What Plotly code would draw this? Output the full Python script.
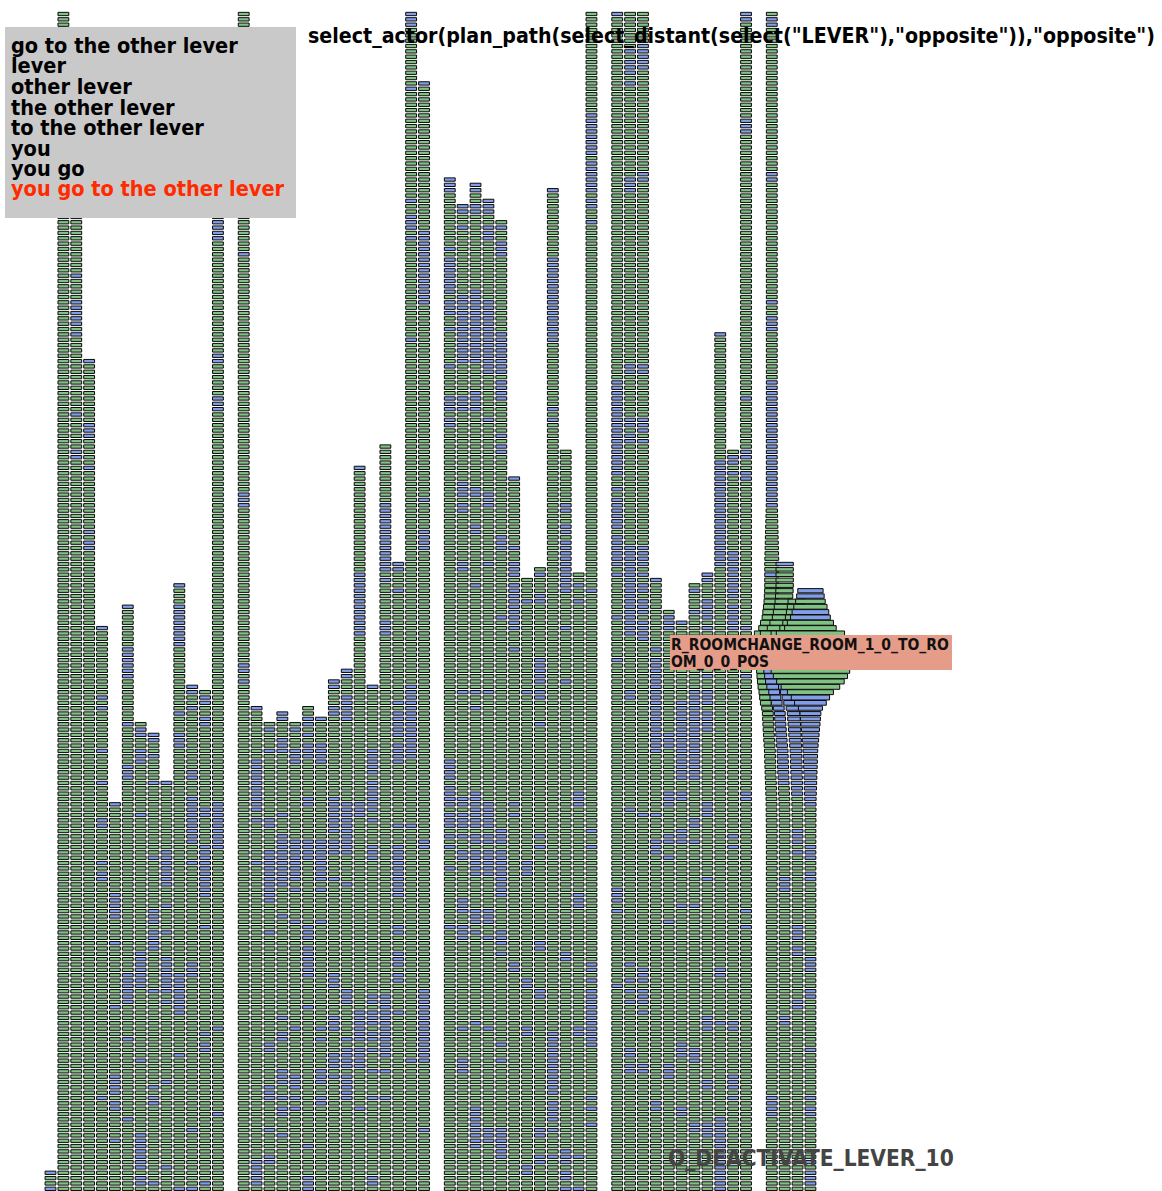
import numpy as np
import plotly.graph_objects as go

ROW_COUNT = 221
# top row of each column (row 0 is the top of the picture); None = empty column
COLUMN_TOPS = [217, 0, 20, 65, 115, 148, 111, 133, 135, 144, 107, 126, 127, 20, None,
               0, 130, 133, 131, 133, 130, 132, 125, 123, 85, 126, 81, 103, 0, 13, None,
               31, 36, 32, 35, 39, 87, 106, 104, 33, 82, 105, 0, None,
               0, 0, 0, 106, 112, 114, 107, 105, 60, 82, 0, None,
               0, 103, 110, 108]

R = lambda a, b: (a, b)
# rows of the blue cells per column: integers or inclusive runs
BLUE_ROWS = [
    [217, 220],
    [],
    [49, R(54, 58), 60, 75, 82, 83],
    [65, 77, 78, 79, 85, 97, 99, 100],
    [115, 128, 130, 138, 144, 151, 152, 159, 161, 162, 203],
    [148, R(165, 169), 174, 186, R(199, 202), 204, 205, 211],
    [111, R(119, 124), 133, R(141, 143), R(180, 185), 192, 207],
    [134, 135, 138, 139, 140, 150, R(176, 182), 196, R(210, 216), 218, 219],
    [135, 136, 139, 144, 158, R(168, 170), R(172, 175), 183, 201, 203, 204, 219],
    [144, R(157, 163), 167, 172, 177, 178, R(179, 183), 185, 200, 216],
    [107, R(111, 118), 131, R(135, 137), R(180, 187), 195, 220],
    [126, 127, 130, 142, 143, R(147, 155), 159, R(178, 180), 209, 220],
    [128, 129, 132, 133, 149, 150, R(156, 165), 171, 191, 193, 194, 219],
    [R(38, 42), 64, 65, R(72, 74), R(148, 156), 190, 206],
    [],
    [45, R(90, 92), 122, 123, 125],
    [130, R(140, 149), 151, 159, R(215, 219)],
    [134, 138, 151, 152, R(157, 166), 172, 193, 194, R(201, 203), 209, 214, 215],
    [131, 132, R(136, 138), 150, R(154, 163), 169, 188, 191, 192, R(198, 200), 203, 205, 206, 210],
    [134, R(138, 140), R(155, 162), 164, 170, 190, R(199, 201), 203, 205],
    [132, 133, 135, R(137, 139), 147, 148, R(155, 158), 171, 172, 173, R(175, 180), 186, 212, R(218, 220)],
    [132, R(137, 140), R(155, 162), 164, 170, 190, 192, R(198, 200), 203, 204],
    [125, 126, 130, 131, R(147, 153), R(155, 157), 162, R(180, 182), R(188, 190), R(195, 197), 199],
    [123, 124, 128, R(129, 132), R(148, 157), 163, R(183, 185), 192, R(194, 197), R(199, 203)],
    [85, R(105, 116), R(148, 150), R(187, 192), R(194, 197), 205],
    [126, R(138, 142), R(144, 149), 151, R(156, 158), 184, 185, R(187, 189), 191, 192, 194, 198, 203, 218, 219],
    [80, R(92, 104), 106, R(114, 116), R(184, 195), 198, 203],
    [103, 104, 108, 129, R(131, 135), R(137, 140), 152, R(156, 165), 171, 172, R(176, 178), 180, 181, 187],
    [R(0, 2), 14, 35, R(38, 40), 42, 61, R(126, 139), 152, 196],
    [13, R(41, 54), 91, R(97, 100), 155, 156, R(183, 196), 209],
    [],
    [R(31, 33), 44, R(46, 52), R(54, 56), 59, 66, R(72, 74), 76, 77, R(140, 143), 145, R(146, 148), R(150, 152), 154, 156, 160, 171],
    [36, 37, 40, R(53, 65), R(72, 74), R(88, 90), 92, 93, 103, 104, 127, 147, 148, R(150, 152), 154, 157, 158, R(166, 168), R(171, 173), 190, R(196, 198)],
    [32, 33, 36, 37, R(52, 65), R(71, 74), 89, 90, 96, 97, 107, 127, 130, R(146, 148), R(149, 152), 154, 155, R(157, 161), R(168, 170), 172, 189, R(205, 212)],
    [35, 36, 37, 40, 41, 42, R(54, 67), 76, R(90, 92), 103, 127, R(148, 152), 154, 155, R(157, 161), R(168, 170), 173, 190, R(209, 211)],
    [40, R(43, 45), R(60, 67), R(69, 72), 79, 81, 82, R(98, 100), 113, R(153, 155), R(157, 165), R(172, 174), 176, 193, 196, R(209, 214)],
    [87, 100, R(103, 105), R(107, 115), 119, 148, 150, 178, 179],
    [110, 127, R(159, 161), 181, 182, 190, 191, 216, 217],
    [105, 109, 110, R(121, 125), 127, 128, 133, 154, 156, 174, 175, 183, 184, 209, 210, 214, 215],
    [33, R(46, 61), 74, 76, R(191, 202), R(204, 207), 209, 214],
    [92, 93, 96, 97, R(99, 108), 115, 125, 176, 177, R(213, 215), 217, 218, 220],
    [107, 110, R(146, 148), R(165, 167), 190, 191, 214, 220],
    [R(19, 26), R(28, 33), 35, 36, 39, 108, 153, 156, 178, 179, 181, R(183, 193), 203, 205, 208],
    [],
    [0, R(69, 86), 89, R(91, 96), R(98, 103), 105, 113, 121, R(164, 166), 168, 182],
    [7, R(9, 11), 13, R(31, 33), 66, 67, 76, 77, 79, 80, R(100, 116), 127, 128, 149, 178, 181, 183, 185, 194, 195, 197, 198],
    [R(6, 10), 30, 31, 66, 67, R(76, 78), 80, R(100, 103), 105, 107, 108, R(110, 112), R(114, 117), 150, R(179, 181), R(183, 185), 187, 197, 198],
    [106, 119, R(121, 138), 150, R(155, 157), 204, 205],
    [R(113, 115), R(135, 137), R(146, 148), 154, 155, 158, 170, R(197, 199)],
    [114, R(129, 143), 146, 147, R(153, 155), 167, R(193, 195), 205, 206],
    [108, 112, R(127, 143), 151, 152, 155, 167, R(194, 196), 208, 209],
    [105, 106, R(110, 113), 115, 124, R(127, 129), R(131, 134), R(148, 150), 162, R(188, 190), 200, 201, R(208, 210)],
    [60, R(84, 103), 179, 180, 189, R(207, 220)],
    [83, 84, 86, R(101, 109), R(111, 115), 154, 156, 189, 190, R(199, 201), 203],
    [0, 1, R(20, 22), 72, 82, 83, 86, 87, 115, 124, 146, 147, 168, 171],
    [],
    [1, 2, 30, 31, 54, R(57, 59), R(69, 92), 105, R(203, 206)],
    [103, R(123, 144), R(162, 164), 188, 189],
    [R(125, 146), R(153, 155), 157, R(171, 173), 175, 176, 185, 186],
    [108, 109, 112, 113, R(128, 148), R(156, 158), 161, 162, R(177, 179), 183, 184, 194, 203, 205, 206, 215, R(217, 219)],
]

LEGEND_LINES = ["go to the other lever", "lever", "other lever", "the other lever",
                "to the other lever", "you", "you go", "you go to the other lever"]
HIGHLIGHT_LINE = "you go to the other lever"
TITLE_TEXT = 'select_actor(plan_path(select_distant(select("LEVER"),"opposite")),"opposite")'
NODE_LINES = ["R_ROOMCHANGE_ROOM_1_0_TO_RO", "OM_0_0_POS"]
FOOT_TEXT = "O_DEACTIVATE_LEVER_10"

GREEN, BLUE = "#80c184", "#829ee6"
W, H = 1162, 1191
X0, PX = 50.5, 12.88     # centre of column 0 and column pitch, pixels
Y0, PY = 14.0, 5.34      # centre of row 0 and row pitch, pixels
FONT = "DejaVu Sans Condensed, DejaVu Sans"

# lens over the last column: strength against row
FOCUS_COL, LENS_R = 59, 4.66
LENS_ROWS = [91, 103, 108, 110, 113, 115, 117, 120, 123.2, 127.2, 130.3, 137.8, 147.2, 153]
LENS_D = [0, 0.1, 1.7, 2.3, 4, 6.6, 18, 20, 18, 4.6, 1.2, 0.4, 0.05, 0]
SPREAD_ROWS = [91, 103, 120, 127]
SPREAD_S = [0, 1, 1, 0]
SPREAD_BY_COL = {56: 0.3, 57: 0.6, 58: 0.6, 59: 0.0}


def lens(x, d):
    t = abs(x - FOCUS_COL) / LENS_R
    if t >= 1 or d <= 0:
        return x
    g = (d + 1) * t / (d * t + 1)
    return FOCUS_COL + np.sign(x - FOCUS_COL) * g * LENS_R


xs, bases, heights, widths, colors = [], [], [], [], []
for col, top in enumerate(COLUMN_TOPS):
    if top is None:
        continue
    blue = set()
    for item in BLUE_ROWS[col]:
        if isinstance(item, tuple):
            blue.update(range(item[0], item[1] + 1))
        else:
            blue.add(item)
    for row in range(top, ROW_COUNT):
        half = 0.42
        d = float(np.interp(row, LENS_ROWS, LENS_D)) if col >= 56 else 0.0
        left, right = lens(col - half, d), lens(col + half, d)
        centre, w = (left + right) / 2, right - left
        if 56 <= col < FOCUS_COL:
            b = 0.45 if row >= 120 else 0.55 * min(1.0, max(0.0, (d - 1.5) / 8))
            centre = col + (centre - col) * b
            spread = float(np.interp(row, SPREAD_ROWS, SPREAD_S)) * SPREAD_BY_COL[col]
            w = max(2 * half + (w - 2 * half) * b, 2 * half * (1 + spread))
        h = 0.62 + 0.3 * min(1.0, d / 3)
        xs.append(centre)
        widths.append(w)
        bases.append(row - h / 2)
        heights.append(h)
        colors.append(BLUE if row in blue else GREEN)

fig = go.Figure(go.Bar(x=xs, y=heights, base=bases, width=widths,
                       marker=dict(color=colors, line=dict(color="#0a0a0a", width=1)),
                       hoverinfo="skip", showlegend=False))


def px(x):
    return x / W


def py(y):
    return 1 - y / H


def rect(x0, y0, x1, y1, color):
    return dict(type="rect", xref="paper", yref="paper", x0=px(x0), x1=px(x1), y0=py(y1), y1=py(y0),
                fillcolor=color, line=dict(width=0), layer="above")


def label(x, y, text, size, color):
    return dict(xref="paper", yref="paper", x=px(x), y=py(y), xanchor="left", yanchor="middle",
                text=text, showarrow=False, borderpad=0,
                font=dict(family=FONT, size=size, color=color, weight="bold"))


annotations = [label(306.5, 36, TITLE_TEXT, 21.2, "#000000")]
for n, line in enumerate(LEGEND_LINES):
    annotations.append(label(10, 45.5 + n * 20.5, line, 21.5, "#ff2a00" if line == HIGHLIGHT_LINE else "#000000"))
for n, line in enumerate(NODE_LINES):
    annotations.append(label(670, 644.5 + n * 17.5, line, 15.5, "#111111"))
annotations.append(label(667, 1157.5, FOOT_TEXT, 22.5, "#444444"))

fig.update_layout(
    width=W, height=H, margin=dict(l=0, r=0, t=0, b=0),
    paper_bgcolor="white", plot_bgcolor="white", barmode="overlay",
    xaxis=dict(range=[-X0 / PX, (W - X0) / PX], visible=False, fixedrange=True),
    yaxis=dict(range=[(H - Y0) / PY, -Y0 / PY], visible=False, fixedrange=True),
    shapes=[rect(5, 27, 296, 218, "#c9c9c9"), rect(670, 635, 952, 670, "#e59d8a")],
    annotations=annotations,
)

fig.write_html("out.html", config={"displayModeBar": False},
               post_script="document.body.style.margin='0';document.documentElement.style.overflow='hidden';")
